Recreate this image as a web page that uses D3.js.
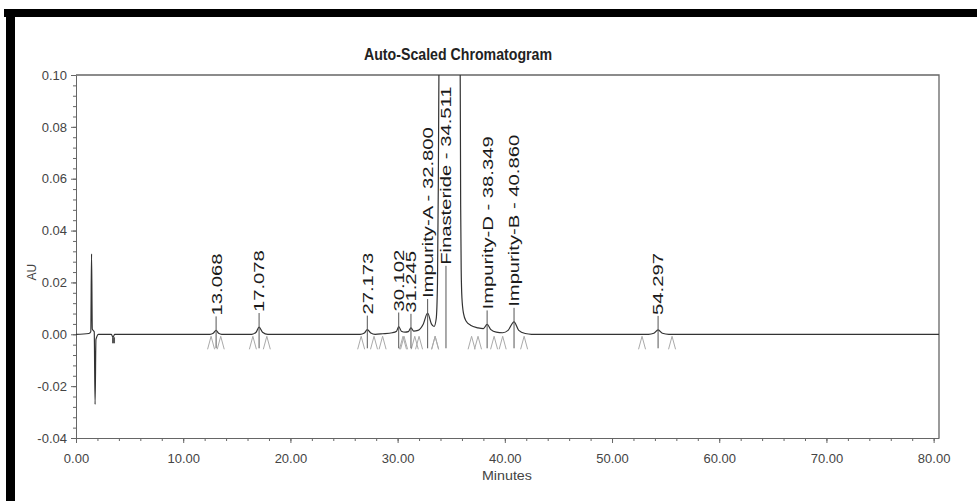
<!DOCTYPE html>
<html>
<head>
<meta charset="utf-8">
<script src="https://cdn.jsdelivr.net/npm/d3@7.9.0/dist/d3.min.js"></script>
<style>
  body { margin: 0; background: #fff; }
  svg { display: block; }
  .tick text { fill: #444; font-family: Arial, "Liberation Sans", sans-serif; font-size: 13px; }
  .domain, .tick line { stroke: #666; }
</style>
</head>
<body>
<svg id="chart" width="977" height="501"></svg>
<script>
// trace of the detector signal, [minutes, AU]
const trace = [
  [0, 0], [1.2, 0.0003], [1.38, 0.001], [1.45, 0.031], [1.52, 0.002], [1.7, 0.001],
  [1.78, -0.027], [1.86, -0.002], [2.1, 0], [3.3, 0], [3.45, -0.0012], [3.6, 0],
  [12.5, 0], [12.8, 0.0004], [13.068, 0.0015], [13.3, 0.0004], [13.6, 0],
  [16.4, 0], [16.8, 0.0008], [17.078, 0.0028], [17.4, 0.0008], [17.9, 0],
  [26.5, 0], [26.9, 0.0005], [27.173, 0.0018], [27.5, 0.0005], [27.9, 0],
  [28.6, 0.0002], [29.5, 0.0006], [29.9, 0.0012], [30.102, 0.003], [30.35, 0.0012],
  [30.7, 0.0008], [31.0, 0.001], [31.245, 0.0025], [31.5, 0.0012], [31.9, 0.0015],
  [32.4, 0.004], [32.8, 0.0082], [33.15, 0.004], [33.4, 0.003], [33.6, 0.006],
  [33.72, 0.02], [33.8, 0.06], [33.88, 0.12], [34.8, 0.3], [35.82, 0.12],
  [35.88, 0.05], [35.93, 0.025], [36.0, 0.014], [36.15, 0.008], [36.4, 0.005],
  [36.8, 0.0035], [37.5, 0.0025], [38.0, 0.0022], [38.349, 0.0038], [38.7, 0.0018],
  [39.2, 0.0008], [39.8, 0.0006], [40.3, 0.0015], [40.86, 0.0048], [41.3, 0.0015],
  [41.9, 0.0003], [42.5, 0], [53.4, 0], [53.9, 0.0004], [54.297, 0.0017],
  [54.7, 0.0004], [55.3, 0], [80.5, 0]
];

// labelled peaks
const peakNames = ['', '', '', '', '', 'Impurity-A', 'Finasteride', 'Impurity-D', 'Impurity-B', ''];
const peakTimes = [13.068, 17.078, 27.173, 30.102, 31.245, 32.800, 34.511, 38.349, 40.860, 54.297];
const peakHeights = [0.0015, 0.0028, 0.0018, 0.003, 0.0025, 0.0082, 0.3, 0.0038, 0.0048, 0.0017];
const peakStarts = [12.6, 16.5, 26.6, 28.6, 30.6, 32.0, 33.5, 37.5, 39.8, 52.8];
const peakEnds = [13.5, 17.8, 27.8, 30.5, 31.6, 33.5, 36.9, 39.0, 41.8, 55.6];

// event marks on the baseline
const events = [3.5];

const xTicks = [0, 10, 20, 30, 40, 50, 60, 70, 80];
const yTicks = [-0.04, -0.02, 0.00, 0.02, 0.04, 0.06, 0.08, 0.10];

const svg = d3.select('#chart');

// black scan border
svg.append('rect').attr('x', 4).attr('y', 9).attr('width', 973).attr('height', 8).attr('fill', '#000');
svg.append('rect').attr('x', 6).attr('y', 9).attr('width', 9).attr('height', 492).attr('fill', '#000');

const area = { left: 76, right: 939, top: 75, bottom: 438 };

const x = d3.scaleLinear().domain([0, 80.5]).range([area.left, area.right]);
const y = d3.scaleLinear().domain([-0.04, 0.10]).range([area.bottom, area.top]);

// plain hyphen instead of d3's unicode minus
const fmt = d => d3.format('.2f')(d).replace('\u2212', '-');

svg.append('text')
  .attr('x', 458).attr('y', 60)
  .attr('text-anchor', 'middle')
  .attr('textLength', 188).attr('lengthAdjust', 'spacingAndGlyphs')
  .style('font-family', '"Liberation Sans Narrow", "Arial Narrow", Arial, sans-serif')
  .style('font-weight', 'bold').style('font-size', '16px').style('fill', '#222')
  .text('Auto-Scaled Chromatogram');

// minor ticks
svg.append('g')
  .attr('transform', `translate(${area.left},0)`)
  .call(d3.axisLeft(y).tickValues(d3.range(-40, 101, 4).map(d => d / 1000)).tickFormat('').tickSize(3))
  .call(g => g.select('.domain').remove());
svg.append('g')
  .attr('transform', `translate(0,${area.bottom})`)
  .call(d3.axisBottom(x).tickValues(d3.range(0, 81, 2)).tickFormat('').tickSize(3))
  .call(g => g.select('.domain').remove());

// major axes
svg.append('g')
  .attr('transform', `translate(${area.left},0)`)
  .call(d3.axisLeft(y).tickValues(yTicks).tickFormat(fmt).tickSize(5).tickSizeOuter(0).tickPadding(4));
svg.append('g')
  .attr('transform', `translate(0,${area.bottom})`)
  .call(d3.axisBottom(x).tickValues(xTicks).tickFormat(fmt).tickSize(5).tickSizeOuter(0).tickPadding(11));

// top and right frame
svg.append('path')
  .attr('d', `M${area.left},${area.top}H${area.right}V${area.bottom}`)
  .attr('fill', 'none').attr('stroke', '#666').attr('stroke-width', 1.3);

svg.append('text')
  .attr('transform', `translate(32,${y(0.024)}) rotate(-90)`)
  .attr('text-anchor', 'middle')
  .attr('dy', '0.35em')
  .style('font-family', 'Arial, sans-serif').style('font-size', '12px').style('fill', '#444')
  .text('AU');

svg.append('text')
  .attr('x', x(40.2)).attr('y', 480)
  .attr('text-anchor', 'middle')
  .attr('textLength', 50).attr('lengthAdjust', 'spacingAndGlyphs')
  .style('font-family', 'Arial, sans-serif').style('font-size', '13px').style('fill', '#444')
  .text('Minutes');

svg.append('clipPath').attr('id', 'plot-clip')
  .append('rect').attr('x', area.left).attr('y', area.top)
  .attr('width', area.right - area.left).attr('height', area.bottom - area.top);

// integration marks below the baseline
const marks = svg.append('g').attr('stroke', '#aaa').attr('stroke-width', 1).attr('fill', 'none');
[...peakStarts, ...peakEnds].forEach(t => {
  const px = x(t), py = y(0);
  marks.append('path').attr('d', `M${px - 3.5},${py + 15}L${px},${py + 2}L${px + 3.5},${py + 15}`);
});

const line = d3.line()
  .x(d => x(d[0]))
  .y(d => y(d[1]))
  .curve(d3.curveMonotoneX);

svg.append('path')
  .datum(trace)
  .attr('clip-path', 'url(#plot-clip)')
  .attr('d', line)
  .attr('fill', 'none')
  .attr('stroke', '#333')
  .attr('stroke-width', 1.2);

svg.selectAll('.event')
  .data(events)
  .join('rect')
  .attr('class', 'event')
  .attr('x', d => x(d) - 1.5).attr('y', y(0) + 3)
  .attr('width', 3).attr('height', 6)
  .attr('fill', '#555');

// peak labels; the off-scale main peak gets its label lower down
const labels = svg.append('g');
peakTimes.forEach((t, i) => {
  const px = x(t);
  const apex = peakHeights[i] > 0.1 ? 0.021 : peakHeights[i];
  const base = y(apex) - 14;
  labels.append('line')
    .attr('x1', px).attr('x2', px)
    .attr('y1', base).attr('y2', y(0) + 14)
    .attr('stroke', '#555').attr('stroke-width', 1);
  const name = peakNames[i] ? `${peakNames[i]} - ${t.toFixed(3)}` : t.toFixed(3);
  labels.append('text')
    .attr('transform', `translate(${px},${base - 1}) rotate(-90) scale(1.35,1)`)
    .attr('dy', '0.36em')
    .style('font-family', 'Arial, "Liberation Sans", sans-serif')
    .style('font-size', '15px').style('fill', '#1a1a1a')
    .text(name);
});
</script>
</body>
</html>
